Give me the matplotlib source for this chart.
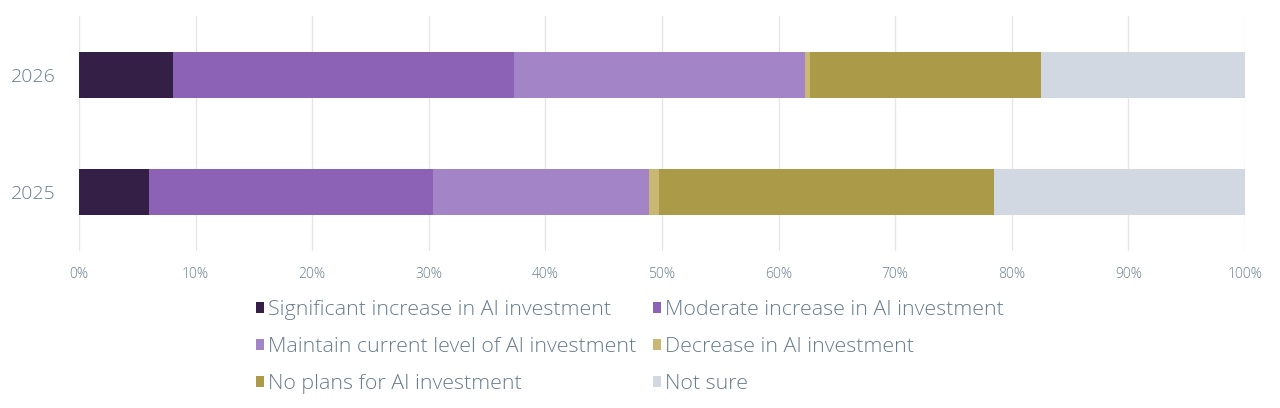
import matplotlib
matplotlib.use("Agg")
import matplotlib.pyplot as plt
from matplotlib.patches import Patch

years = ["2025", "2026"]
categories = [
    "Significant increase in AI investment",
    "Moderate increase in AI investment",
    "Maintain current level of AI investment",
    "Decrease in AI investment",
    "No plans for AI investment",
    "Not sure",
]
# values per category, ordered as years (2025, 2026)
significant = [6.0, 8.1]
moderate = [24.4, 29.2]
maintain = [18.5, 25.0]
decrease = [0.8, 0.4]
no_plans = [28.8, 19.8]
not_sure = [21.5, 17.5]
series = [significant, moderate, maintain, decrease, no_plans, not_sure]
colors = ["#341f47", "#8c62b6", "#a384c6", "#c9b873", "#ab9a47", "#d1d8e2"]
xticks = list(range(0, 101, 10))
xtick_labels = [f"{t}%" for t in xticks]

text_color = "#677d8f"
plt.rcParams["font.family"] = ["Open Sans", "DejaVu Sans"]

fig = plt.figure(figsize=(12.8, 4.08), dpi=100)
ax = fig.add_axes([79 / 1280, 1 - 251 / 408, 1166 / 1280, 235 / 408])

y = list(range(len(years)))
left = [0.0] * len(years)
for vals, col, lab in zip(series, colors, categories):
    ax.barh(y, vals, left=left, height=0.39, color=col, label=lab, zorder=3)
    left = [l + v for l, v in zip(left, vals)]

ax.set_xlim(0, 100)
ax.set_ylim(-0.5, 1.5)
ax.set_yticks(y)
ax.set_yticklabels(years, fontsize=14, color=text_color, fontweight="light")
ax.set_xticks(xticks)
ax.set_xticklabels(xtick_labels, fontsize=10, color=text_color, fontweight="light")
ax.tick_params(axis="both", length=0)
ax.tick_params(axis="y", pad=16.5)
ax.tick_params(axis="x", pad=11.4)
ax.grid(axis="x", color="#e6e6e6", linewidth=1, zorder=0)
ax.grid(axis="y", visible=False)
for s in ax.spines.values():
    s.set_visible(False)

# legend filled row-wise (2 columns)
ncol = 2
order = [i for c in range(ncol) for i in range(c, len(categories), ncol)]
handles = [Patch(facecolor=colors[i], edgecolor="none") for i in order]
labels = [categories[i] for i in order]
leg = fig.legend(
    handles, labels, ncol=ncol, loc="upper left",
    bbox_to_anchor=(256 / 1280, 1 - 300 / 408), frameon=False,
    prop={"family": ["Open Sans", "DejaVu Sans"], "size": 15.4, "weight": "light"},
    handlelength=0.38, handleheight=0.38, handletextpad=0.2,
    columnspacing=0.75, labelspacing=0.8, borderpad=0, borderaxespad=0,
)
for t in leg.get_texts():
    t.set_color(text_color)

fig.savefig("out.png", dpi=100, facecolor="white")
